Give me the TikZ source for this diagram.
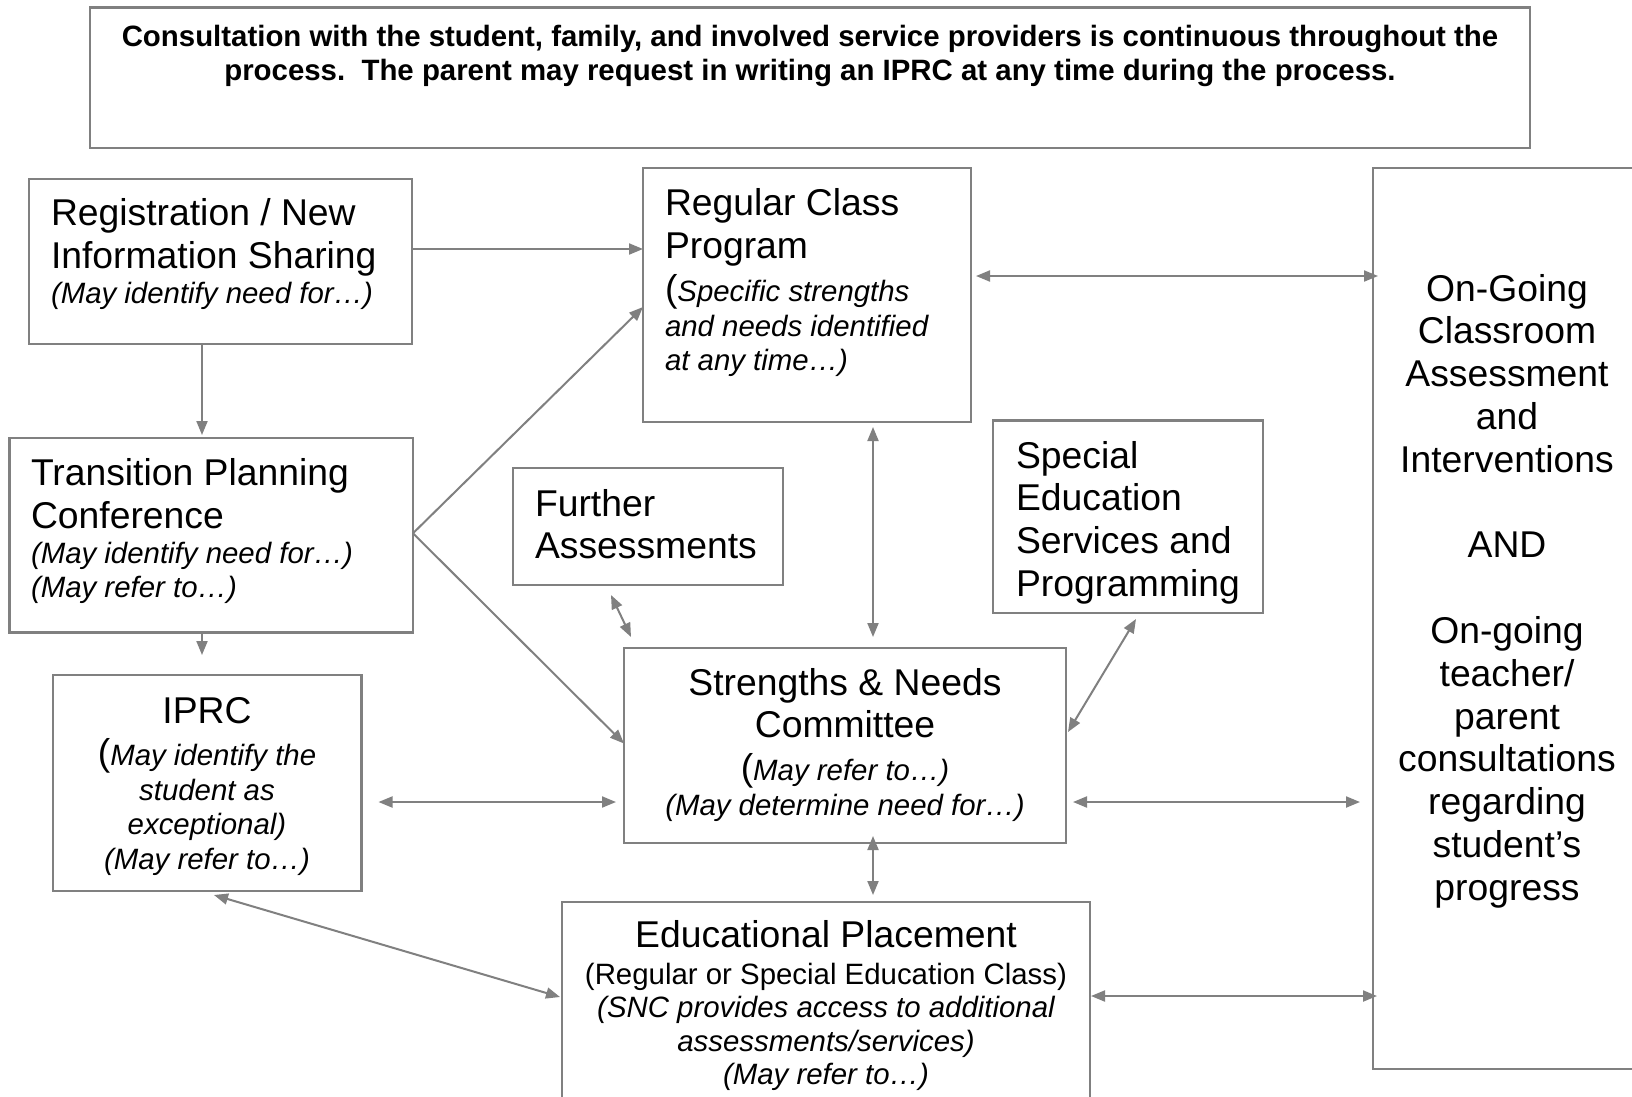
\documentclass[tikz,border=0pt]{standalone}
\usepackage{fontspec}
\setmainfont{Liberation Sans}
\usetikzlibrary{arrows.meta}

\definecolor{framegray}{HTML}{808080}
\definecolor{wiregray}{HTML}{808080}

\newcommand\bigfont{\fontsize{37.3pt}{42.8pt}\selectfont}
\newcommand\smallfont{\fontsize{29.4pt}{35pt}\selectfont}
\newcommand\notefont{\fontsize{29.4pt}{35pt}\selectfont\itshape}
\newcommand\headfont{\fontsize{29.4pt}{33pt}\selectfont\bfseries}

\tikzset{
  frame/.style={draw=framegray, line width=2.6pt, anchor=north west,
                inner sep=0pt, outer sep=0pt},
  lbl/.style={inner sep=0pt, outer sep=0pt, anchor=base west, font=\bigfont},
  clbl/.style={lbl, anchor=base},
  note/.style={lbl, font=\notefont},
  cnote/.style={note, anchor=base},
  plain/.style={lbl, anchor=base, font=\smallfont},
  head/.style={inner sep=0pt, outer sep=0pt, anchor=base, font=\headfont},
  >={Triangle[length=14pt,width=11pt]},
  oneway/.style={draw=wiregray, line width=2pt, ->},
  twoway/.style={draw=wiregray, line width=2pt, <->},
}

\begin{document}
\begin{tikzpicture}[x=1pt,y=-1pt]
\useasboundingbox (0,0) rectangle (1632,1096);
\fill[white] (0,0) rectangle (1632,1096);

% ---------- frames ----------
\node[frame, minimum width=1440pt, minimum height=140.5pt] (consult) at (90,7.5) {};
\node[frame, minimum width=383pt,  minimum height=165pt]   (reg)     at (29,179) {};
\node[frame, minimum width=403.5pt,minimum height=194.5pt] (trans)   at (9.5,438) {};
\node[frame, minimum width=308.5pt,minimum height=216pt]   (iprc)    at (53,675) {};
\node[frame, minimum width=328pt,  minimum height=254pt]   (regular) at (643,168) {};
\node[frame, minimum width=270pt,  minimum height=117pt]   (further) at (513,468) {};
\node[frame, minimum width=270pt,  minimum height=192.5pt] (special) at (993,420.5) {};
\node[frame, minimum width=442pt,  minimum height=195pt]   (snc)     at (624,648) {};
\node[frame, minimum width=528pt,  minimum height=208pt]   (edu)     at (562,902) {};
\node[frame, minimum width=277pt,  minimum height=901pt]   (ongoing) at (1373,168) {};

% ---------- heading ----------
\node[head] (consultA) at (810,46) {Consultation with the student, family, and involved service providers is continuous throughout the};
\node[head] (consultB) at (810,80) {process.\ \ The parent may request in writing an IPRC at any time during the process.};

% ---------- registration ----------
\node[lbl]  (regA) at (51,225) {Registration / New};
\node[lbl]  (regB) at (51,268) {Information Sharing};
\node[note] (regC) at (51,303) {(May identify need for…)};

% ---------- transition planning ----------
\node[lbl]  (transA) at (31,485.5) {Transition Planning};
\node[lbl]  (transB) at (31,528) {Conference};
\node[note] (transC) at (31,563) {(May identify need for…)};
\node[note] (transD) at (31,597) {(May refer to…)};

% ---------- IPRC ----------
\node[clbl]  (iprcA) at (207,723) {IPRC};
\node[clbl]  (iprcB) at (207,765) {(\notefont May identify the};
\node[cnote] (iprcC) at (207,800) {student as};
\node[cnote] (iprcD) at (207,834) {exceptional)};
\node[cnote] (iprcE) at (207,869) {(May refer to…)};

% ---------- regular class ----------
\node[lbl]  (regularA) at (665,215) {Regular Class};
\node[lbl]  (regularB) at (665,258) {Program};
\node[lbl]  (regularC) at (665,301) {(\notefont Specific strengths};
\node[note] (regularD) at (665,336) {and needs identified};
\node[note] (regularE) at (665,370) {at any time…)};

% ---------- further assessments ----------
\node[lbl] (furtherA) at (535,516) {Further};
\node[lbl] (furtherB) at (535,558.5) {Assessments};

% ---------- special education ----------
\node[lbl] (specialA) at (1016,468) {Special};
\node[lbl] (specialB) at (1016,510.5) {Education};
\node[lbl] (specialC) at (1016,553) {Services and};
\node[lbl] (specialD) at (1016,596) {Programming};

% ---------- strengths & needs ----------
\node[clbl]  (sncA) at (845,695) {Strengths \& Needs};
\node[clbl]  (sncB) at (845,737.5) {Committee};
\node[clbl]  (sncC) at (845,780) {(\notefont May refer to…)};
\node[cnote] (sncD) at (845,815.5) {(May determine need for…)};

% ---------- educational placement ----------
\node[clbl]  (eduA) at (826,947.5) {Educational Placement};
\node[plain] (eduB) at (826,984) {(Regular or Special Education Class)};
\node[cnote] (eduC) at (826,1017.5) {(SNC provides access to additional};
\node[cnote] (eduD) at (826,1051) {assessments/services)};
\node[cnote] (eduE) at (826,1084) {(May refer to…)};

% ---------- on-going column ----------
\node[clbl] (ogA) at (1507,301)   {On-Going};
\node[clbl] (ogB) at (1507,343.8) {Classroom};
\node[clbl] (ogC) at (1507,386.6) {Assessment};
\node[clbl] (ogD) at (1507,429.4) {and};
\node[clbl] (ogE) at (1507,472.2) {Interventions};
\node[clbl] (ogF) at (1507,557.8) {AND};
\node[clbl] (ogG) at (1507,643.4) {On-going};
\node[clbl] (ogH) at (1507,686.2) {teacher/};
\node[clbl] (ogI) at (1507,729)   {parent};
\node[clbl] (ogJ) at (1507,771.8) {consultations};
\node[clbl] (ogK) at (1507,814.6) {regarding};
\node[clbl] (ogL) at (1507,857.4) {student’s};
\node[clbl] (ogM) at (1507,900.2) {progress};

% ---------- connectors ----------
\draw[oneway] ([yshift=12.5pt]reg.east) -- ([yshift=46pt]regular.west);
\draw[oneway] ([xshift=-18.5pt]reg.south) -- ([xshift=-9.25pt,yshift=3pt]trans.north);
\draw[oneway] ([xshift=-9.25pt]trans.south) -- ([xshift=-5.25pt,yshift=20pt]iprc.north);
\draw[oneway] ([yshift=2pt]trans.east) -- ([yshift=-12pt]regular.west);
\draw[oneway] ([yshift=2pt]trans.east) -- ([yshift=2pt]snc.west);

\draw[twoway] ([xshift=5pt,yshift=19pt]regular.east) -- ([xshift=5pt,yshift=342.5pt]ongoing.west);
\draw[twoway] ([xshift=66pt,yshift=-5pt]regular.south) -- ([xshift=28pt,yshift=11pt]snc.north);
\draw[twoway] ([xshift=-37pt,yshift=-10pt]further.south) -- ([xshift=7pt,yshift=11pt]snc.north west);
\draw[twoway] ([xshift=8pt,yshift=-6pt]special.south) -- ([xshift=2pt,yshift=13.5pt]snc.east);
\draw[twoway] ([xshift=17pt,yshift=-19pt]iprc.east) -- ([xshift=-8pt,yshift=-56.5pt]snc.west);
\draw[twoway] ([xshift=7pt,yshift=-56.5pt]snc.east) -- ([xshift=-13pt,yshift=-183.5pt]ongoing.west);
\draw[twoway] ([xshift=28pt,yshift=7pt]snc.south) -- ([xshift=47pt,yshift=7pt]edu.north);
\draw[twoway] ([xshift=6.75pt,yshift=-4pt]iprc.south) -- ([xshift=-2pt,yshift=9pt]edu.west);
\draw[twoway] ([xshift=1pt,yshift=10pt]edu.east) -- ([xshift=4pt,yshift=-377.5pt]ongoing.west);
\end{tikzpicture}
\end{document}
